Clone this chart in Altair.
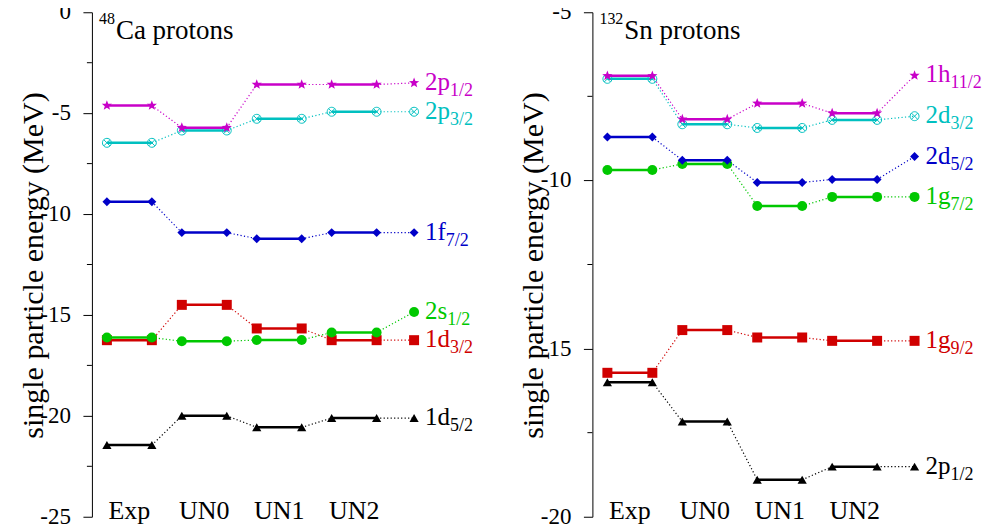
import math
import altair as alt
import pandas as pd

FONT = "Liberation Serif, Times New Roman, Times, serif"

columns = ["Exp", "UN0", "UN1", "UN2"]
y_title = "single particle energy (MeV)"

# ---- 48Ca protons : single particle energies (MeV) for Exp, UN0, UN1, UN2
ca_levels = ["1d", "1d", "2s", "1f", "2p", "2p"]
ca_j = ["5/2", "3/2", "1/2", "7/2", "3/2", "1/2"]
ca_1d52 = [-21.45, -20.00, -20.57, -20.11]
ca_1d32 = [-16.25, -14.50, -15.67, -16.25]
ca_2s12 = [-16.12, -16.30, -16.24, -15.87]
ca_1f72 = [-9.39, -10.92, -11.22, -10.92]
ca_2p32 = [-6.47, -5.86, -5.28, -4.93]
ca_2p12 = [-4.62, -5.72, -3.58, -3.58]
ca_label_e = [-20.11, -16.25, -14.85, -10.92, -4.93, -3.50]
ca_domain = [-25, 0]
ca_major = [-25, -20, -15, -10, -5, 0]
ca_minor = [-22.5, -17.5, -12.5, -7.5, -2.5]

# ---- 132Sn protons
sn_levels = ["2p", "1g", "1g", "2d", "2d", "1h"]
sn_j = ["1/2", "9/2", "7/2", "5/2", "3/2", "11/2"]
sn_2p12 = [-16.00, -17.17, -18.90, -18.51]
sn_1g92 = [-15.72, -14.45, -14.67, -14.77]
sn_1g72 = [-9.69, -9.51, -10.76, -10.49]
sn_2d52 = [-8.71, -9.40, -10.06, -9.97]
sn_2d32 = [-6.98, -8.33, -8.44, -8.20]
sn_1h112 = [-6.89, -8.18, -7.71, -8.00]
sn_label_e = [-18.51, -14.77, -10.49, -9.29, -8.09, -6.88]
sn_domain = [-20, -5]
sn_major = [-20, -15, -10, -5]
sn_minor = [-17.5, -12.5, -7.5]

ca_series = [ca_1d52, ca_1d32, ca_2s12, ca_1f72, ca_2p32, ca_2p12]
sn_series = [sn_2p12, sn_1g92, sn_1g72, sn_2d52, sn_2d32, sn_1h112]


# ---- marker shapes (unit-box SVG paths)
def _poly(pts):
    return "M" + "L".join(f"{px:.3f},{py:.3f}" for px, py in pts) + "Z"


CIRCLE_X = (_poly([(math.cos(2 * math.pi * t / 24), math.sin(2 * math.pi * t / 24)) for t in range(24)])
            + "M-0.7,-0.7L0.7,0.7M-0.7,0.7L0.7,-0.7")
STAR = _poly([((1.0 if t % 2 == 0 else 0.42) * math.sin(math.pi * t / 5),
               -(1.0 if t % 2 == 0 else 0.42) * math.cos(math.pi * t / 5)) for t in range(10)])

COLORS = ["#000000", "#d00000", "#00c800", "#0000c8", "#00c0c0", "#c800c8"]
SHAPES = ["triangle-up", "square", "circle", "diamond", CIRCLE_X, STAR]
SIZES = [85, 100, 100, 80, 80, 115]
FILLED = [True, True, True, True, False, True]

SEG = 0.6
FINAL_X = 4.1
X_DOMAIN = [-0.2, 5.0]
PW, PH = 390, 505
MAIN_FS, SUB_FS = 25, 18
CHAR_W = {"1": 0.5, "2": 0.5, "p": 0.5, "d": 0.5, "h": 0.5, "g": 0.5, "f": 0.333, "s": 0.389}


def panel(series, levels, js, label_e, dom, major, minor, sup, title):
    y_axis = alt.Axis(
        values=major, labels=False, title=None,
        tickSize=9, tickColor="black", tickWidth=1, domainColor="black", domainWidth=1,
        grid=False,
    )
    X = alt.X("x:Q", scale=alt.Scale(domain=X_DOMAIN, nice=False, zero=False), axis=None)
    Y = alt.Y("e:Q", scale=alt.Scale(domain=dom, nice=False, zero=False), axis=y_axis)

    layers = []
    # minor ticks
    mdf = pd.DataFrame(dict(e=minor, x=[X_DOMAIN[0]] * len(minor)))
    layers.append(alt.Chart(mdf).mark_rule(color="black", strokeWidth=1, x2Offset=-5).encode(
        x=X, x2="x:Q", y=Y))
    # tick labels
    tl = pd.DataFrame(dict(e=major, x=[X_DOMAIN[0]] * len(major), t=[str(v) for v in major]))
    layers.append(alt.Chart(tl).mark_text(
        font=FONT, fontSize=23, color="black", align="right", baseline="middle",
        xOffset=-21).encode(x=X, y=Y, text="t:N"))
    # axis title
    tt = pd.DataFrame([dict(x=X_DOMAIN[0], e=(dom[0] + dom[1]) / 2, t=y_title)])
    layers.append(alt.Chart(tt).mark_text(
        font=FONT, fontSize=30, color="black", align="center", baseline="alphabetic",
        angle=270, xOffset=-49, yOffset=1).encode(x=X, y=Y, text="t:N"))

    for k, vals in enumerate(series):
        c = COLORS[k]
        seg, dots, pts = [], [], []
        for i, v in enumerate(vals):
            sid = f"{k}-{i}"
            seg += [dict(x=i, e=v, sid=sid), dict(x=i + SEG, e=v, sid=sid)]
            pts += [dict(x=i, e=v), dict(x=i + SEG, e=v)]
        links = [(i + SEG, vals[i], i + 1, vals[i + 1]) for i in range(len(vals) - 1)]
        links.append((len(vals) - 1 + SEG, vals[-1], FINAL_X, label_e[k]))
        for j, (x0, e0, x1, e1) in enumerate(links):
            did = f"{k}-d{j}"
            dots += [dict(x=x0, e=e0, sid=did), dict(x=x1, e=e1, sid=did)]
        pts.append(dict(x=FINAL_X, e=label_e[k]))

        layers.append(alt.Chart(pd.DataFrame(dots)).mark_line(
            color=c, strokeWidth=1.2, strokeDash=[1.2, 2.3]).encode(x=X, y=Y, detail="sid:N"))
        layers.append(alt.Chart(pd.DataFrame(seg)).mark_line(
            color=c, strokeWidth=2.5).encode(x=X, y=Y, detail="sid:N"))
        layers.append(alt.Chart(pd.DataFrame(pts)).mark_point(
            shape=SHAPES[k], filled=FILLED[k], size=SIZES[k], color=c, opacity=1,
            strokeWidth=1).encode(x=X, y=Y))

        lab = pd.DataFrame([dict(x=FINAL_X, e=label_e[k], t=levels[k], s=js[k])])
        w = sum(CHAR_W[ch] for ch in levels[k]) * MAIN_FS
        layers.append(alt.Chart(lab).mark_text(
            font=FONT, fontSize=MAIN_FS, color=c, align="left", baseline="alphabetic",
            dx=11, dy=7).encode(x=X, y=Y, text="t:N"))
        layers.append(alt.Chart(lab).mark_text(
            font=FONT, fontSize=SUB_FS, color=c, align="left", baseline="alphabetic",
            dx=round(11 + w, 1), dy=13).encode(x=X, y=Y, text="s:N"))

    cat = pd.DataFrame(dict(x=[i + SEG / 2 for i in range(len(columns))],
                            e=[dom[0]] * len(columns), t=columns))
    layers.append(alt.Chart(cat).mark_text(
        font=FONT, fontSize=26, color="black", align="center", baseline="alphabetic",
        dy=2).encode(x=X, y=Y, text="t:N"))

    tdf = pd.DataFrame([dict(x=X_DOMAIN[0], e=dom[1], a=sup, b=title)])
    sup_fs = 16
    layers.append(alt.Chart(tdf).mark_text(
        font=FONT, fontSize=sup_fs, color="black", align="left", baseline="alphabetic",
        dx=7, dy=12).encode(x=X, y=Y, text="a:N"))
    layers.append(alt.Chart(tdf).mark_text(
        font=FONT, fontSize=27, color="black", align="left", baseline="alphabetic",
        dx=round(7 + len(sup) * 0.5 * sup_fs + 1, 1), dy=27).encode(x=X, y=Y, text="b:N"))

    return alt.layer(*layers).properties(width=PW, height=PH)


ca = panel(ca_series, ca_levels, ca_j, ca_label_e, ca_domain, ca_major, ca_minor, "48", "Ca protons")
sn = panel(sn_series, sn_levels, sn_j, sn_label_e, sn_domain, sn_major, sn_minor, "132", "Sn protons")

chart = alt.hconcat(ca, sn, spacing=37).properties(
    padding={"left": 10, "top": -7, "right": 0, "bottom": 0},
    background="white",
).configure_view(stroke=None)

chart.save("out.html", embed_options={"renderer": "svg", "actions": False})
